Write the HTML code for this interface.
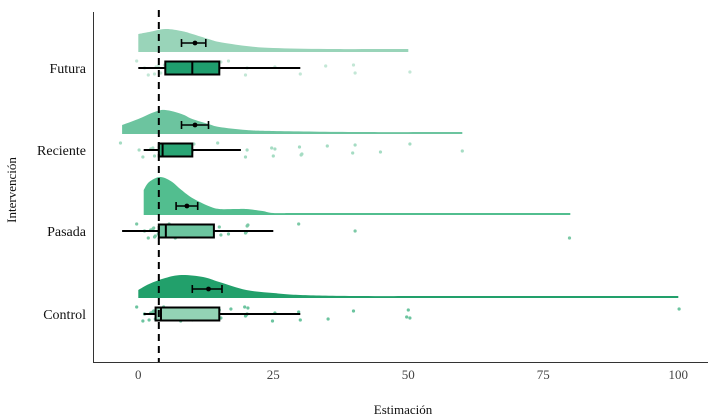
<!DOCTYPE html>
<html><head><meta charset="utf-8"><style>
body{margin:0;background:#fff}
svg{display:block}
text{font-family:"Liberation Serif",serif}
</style></head><body>
<svg id="chart" width="714" height="420"></svg>
<script>
const groups=["Control","Pasada","Reciente","Futura"];
const groupCenter=[314,231,150,68];
const densX=[[0,2,5,8,12,15,20,25,30,40,60,100],[1,2,4,6,8,10,13,15,18,20,23,25,30,50,80],[-3,0,3,5,8,10,13,15,20,25,40,60],[0,2,5,8,10,13,15,20,25,35,50]];
const densH=[[8,14,20,23,21,16,8,5,3,2,2,2],[25,33,38,34,25,17,9,6,6,6,4,2,2,2,2],[9,15,22,24,20,15,10,7,4,3,2,2],[18,20,23,21,18,13,10,6,4,3,3]];
const lowW=[1,-3,1,0];
const q1=[3.2,3.8,3.8,5];
const med=[4.2,5.1,4.5,10];
const q3=[15,14,10,15];
const highW=[30,25,19,30];
const meanV=[13,9,10.5,10.5];
const ciLo=[10,7,8,8];
const ciHi=[15.5,11,13,12.5];
const pts=[[0,1,1,2,2,3,3,3,3,4,4,4,5,5,5,5,6,8,10,10,10,10,12,15,15,15,17,20,20,20,20,20,25,25,30,30,35,40,50,50,50,100],
[0,1,2,2,3,3,3,3,4,4,4,5,5,5,5,6,6,7,8,9,10,10,12,15,15,17,20,20,20,20,30,40,80],
[-3,0,1,2,3,3,4,4,5,5,6,7,8,10,10,15,20,20,25,25,25,30,30,30,35,40,40,45,50,60],
[0,1,2,3,3,4,4,5,6,8,10,10,12,15,15,17,20,20,25,30,35,40,40,50]];
const xTicks=[0,25,50,75,100];
const refLine=3.8;
const dColors=["#22a06b","#52be8f","#6cc49f","#99d4b9"];
const bColors=["#93d3b5","#6cc49f","#2aa575","#1f9e6e"];
const pColors=["#6cc49f","#7cc9a6","#a5dcc3","#c3e7d6"];
const x=v=>138.3+v*5.4;
const NS="http://www.w3.org/2000/svg";
const svg=document.getElementById('chart');
function mk(t,a,p){const e=document.createElementNS(NS,t);for(const k in a)e.setAttribute(k,a[k]);(p||svg).appendChild(e);return e;}
function smooth(P){let d='';for(let i=0;i<P.length-1;i++){const p0=P[Math.max(0,i-1)],p1=P[i],p2=P[i+1],p3=P[Math.min(P.length-1,i+2)];
 const c1=[p1[0]+(p2[0]-p0[0])/6,p1[1]+(p2[1]-p0[1])/6],c2=[p2[0]-(p3[0]-p1[0])/6,p2[1]-(p3[1]-p1[1])/6];
 d+=` C${c1[0]},${c1[1]} ${c2[0]},${c2[1]} ${p2[0]},${p2[1]}`;}return d;}
groups.forEach((g,i)=>{
 const c=groupCenter[i],base=c-16;
 const gEl=mk('g',{});
 
 
 const P=densX[i].map((v,j)=>[x(v),base-densH[i][j]]);
 let d='M'+P[0][0]+','+base+' L'+P[0][0]+','+P[0][1]+smooth(P)+' L'+P[P.length-1][0]+','+base+'Z';
 const den=mk('path',{d:d,fill:dColors[i]},gEl);
 
 
 pts[i].forEach((v,j)=>{
  const jy=((j*37)%15)-7, jx=((j*13)%5-2)*0.15;
  const p=mk('circle',{cx:x(v+jx),cy:c+jy,r:1.6,fill:pColors[i]},gEl);
  
  
 });
 const wl=mk('line',{x1:x(lowW[i]),x2:x(highW[i]),y1:c,y2:c,stroke:'#000','stroke-width':2},gEl);
 
 
 const bx=mk('rect',{x:x(q1[i]),y:c-6.5,width:x(q3[i])-x(q1[i]),height:13,fill:bColors[i],stroke:'#000','stroke-width':2},gEl);
 
 
 const ml=mk('line',{x1:x(med[i]),x2:x(med[i]),y1:c-6.5,y2:c+6.5,stroke:'#000','stroke-width':2},gEl);
 
 
 const my=base-9;
 const ci=mk('path',{d:`M${x(ciLo[i])},${my} H${x(ciHi[i])} M${x(ciLo[i])},${my-4} V${my+4} M${x(ciHi[i])},${my-4} V${my+4}`,stroke:'#000','stroke-width':1.6,fill:'none'},gEl);
 
 
 const mp=mk('circle',{cx:x(meanV[i]),cy:my,r:2.4,fill:'#000'},gEl);
 
 
 const lb=mk('text',{x:86,y:c+5,'text-anchor':'end','font-size':14,fill:'#111'});
 lb.textContent=g;
 
 
});
const rl=mk('line',{x1:x(refLine),x2:x(refLine),y1:10,y2:362,stroke:'#000','stroke-width':2,'stroke-dasharray':'7,5'});


const ax=mk('path',{d:'M93.5,12 V362.5 H708',stroke:'#333','stroke-width':1,fill:'none'});


xTicks.forEach(t=>{
 const e=mk('text',{x:x(t),y:379,'text-anchor':'middle','font-size':13,fill:'#444'});
 e.textContent=t;
 
 
});
const xt=mk('text',{x:403,y:414,'text-anchor':'middle','font-size':13,fill:'#111'});
xt.textContent='Estimación';


const yt=mk('text',{x:0,y:0,'text-anchor':'middle','font-size':13,fill:'#111',transform:'translate(16,190) rotate(-90)'});
yt.textContent='Intervención';


</script>
</body></html>
